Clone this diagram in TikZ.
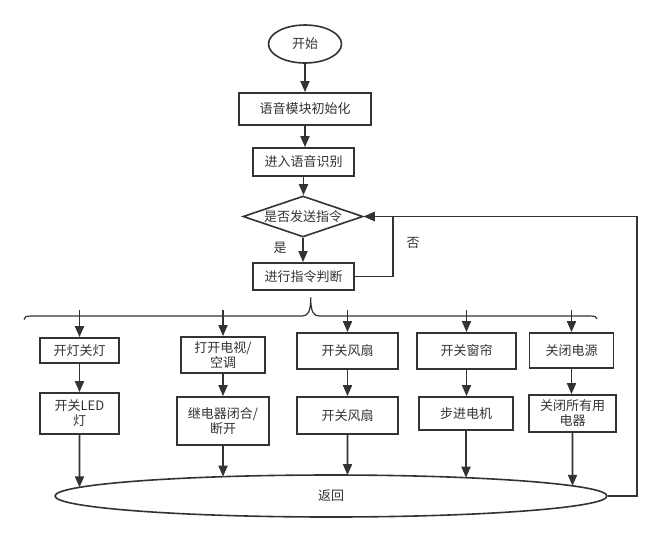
\documentclass[tikz,border=0pt]{standalone}
\usepackage{fontspec}
\setmainfont{Noto Sans CJK SC}
\usetikzlibrary{arrows.meta,shapes.geometric,intersections}
\definecolor{ink}{HTML}{333333}
\begin{document}
\begin{tikzpicture}[x=1pt,y=-1pt,
  every node/.style={font=\fontsize{13}{15}\selectfont, text=ink, align=center, inner sep=0pt},
  box/.style={draw=ink, line width=1.8pt, rectangle},
  oval/.style={draw=ink, line width=1.6pt, ellipse},
  dec/.style={draw=ink, line width=1.6pt, diamond},
  arr/.style={draw=ink, line width=1.8pt, -{Triangle[length=11pt,width=9pt]}},
  bracestyle/.style={draw=ink, line width=1.2pt},
  lbl/.style={font=\fontsize{13}{15}\selectfont, text=ink}
]
\path[fill=white,use as bounding box] (0,0) rectangle (661,542);

% main column
\node[oval, minimum width=73pt, minimum height=38pt] (start) at (305,44) {开始};
\node[box, minimum width=132pt, minimum height=32pt] (init) at (305,109) {语音模块初始化};
\node[box, minimum width=101pt, minimum height=28pt] (rec) at (303.5,162) {进入语音识别};
\node[dec, minimum width=120pt, minimum height=41pt,
      label={[lbl]center:是否发送指令}] (dia) at (303,216.5) {};
\node[box, minimum width=101pt, minimum height=27pt] (judge) at (303.5,276.5) {进行指令判断};
\node[lbl] (yes) at (280,248) {是};
\node[lbl] (no) at (413,243) {否};

% branch boxes
\node[box, minimum width=79pt, minimum height=25pt] (b1) at (79.5,350.5) {开灯关灯};
\node[box, minimum width=79pt, minimum height=41pt] (b2) at (79.5,413.5) {开关LED\\灯};
\node[box, minimum width=84pt, minimum height=36pt] (b3) at (223,355) {打开电视/\\空调};
\node[box, minimum width=92pt, minimum height=48pt] (b4) at (223,421) {继电器闭合/\\断开};
\node[box, minimum width=101pt, minimum height=36pt] (b5) at (347.5,351) {开关风扇};
\node[box, minimum width=101pt, minimum height=37pt] (b6) at (347.5,415.5) {开关风扇};
\node[box, minimum width=99pt, minimum height=36pt] (b7) at (466.5,351) {开关窗帘};
\node[box, minimum width=94pt, minimum height=33pt] (b8) at (466,413.5) {步进电机};
\node[box, minimum width=84pt, minimum height=35pt] (b9) at (571.5,350.5) {关闭电源};
\node[box, minimum width=87pt, minimum height=37pt] (b10) at (572.5,413.5) {关闭所有用\\电器};

\node[oval, minimum width=552pt, minimum height=42pt] (ret) at (331,496) {返回};
\path[name path=retp] (331,496) ellipse [x radius=276pt, y radius=21pt];

% main connectors
\draw[arr] (start) -- (init);
\draw[arr] (init.south) -- (init.south |- rec.north);
\draw[arr] (rec.south) -- (rec.south |- dia.north);
\draw[arr] (dia.south) -- (dia.south |- judge.north);
\coordinate (nj) at (393,276.5);
\draw[arr] (judge.east) -- (nj) -- (nj |- dia.east) -- (dia.east);
\coordinate (rr) at (637,0);
\draw[arr] (ret.east) -| (rr |- dia.east) -- (dia.east);

% brace
\draw[bracestyle] (24,319.5) .. controls (24,316.8) and (26,316) .. (32,316)
  -- (302,316) .. controls (308,316) and (310.7,312) .. (310.7,297.5)
  .. controls (310.7,312) and (313.5,316) .. (319.5,316)
  -- (589,316) .. controls (595,316) and (597,316.8) .. (597,318.8);

% branch arrows from brace
\coordinate (bt) at (0,310);
\draw[arr] (b1.north |- bt) -- (b1.north);
\draw[arr] (b3.north |- bt) -- (b3.north);
\draw[arr] (b5.north |- bt) -- (b5.north);
\draw[arr] (b7.north |- bt) -- (b7.north);
\draw[arr] (b9.north |- bt) -- (b9.north);

% box to box
\draw[arr] (b1.south) -- (b1.south |- b2.north);
\draw[arr] (b3.south) -- (b3.south |- b4.north);
\draw[arr] (b5.south) -- (b5.south |- b6.north);
\draw[arr] (b7.south) -- (b7.south |- b8.north);
\draw[arr] (b9.south) -- (b9.south |- b10.north);

% to return ellipse
\path[name path=va] (b2.south) -- ++(0,80);
\path[name path=vb] (b4.south) -- ++(0,80);
\path[name path=vc] (b6.south) -- ++(0,80);
\path[name path=vd] (b8.south) -- ++(0,80);
\path[name path=ve] (b10.south) -- ++(0,80);
\path[name intersections={of=va and retp, by=xa}];
\path[name intersections={of=vb and retp, by=xb}];
\path[name intersections={of=vc and retp, by=xc}];
\path[name intersections={of=vd and retp, by=xd}];
\path[name intersections={of=ve and retp, by=xe}];
\draw[arr] (b2.south) -- (xa);
\draw[arr] (b4.south) -- (xb);
\draw[arr] (b6.south) -- (xc);
\draw[arr] (b8.south) -- (xd);
\draw[arr] (b10.south) -- (xe);
\end{tikzpicture}
\end{document}
